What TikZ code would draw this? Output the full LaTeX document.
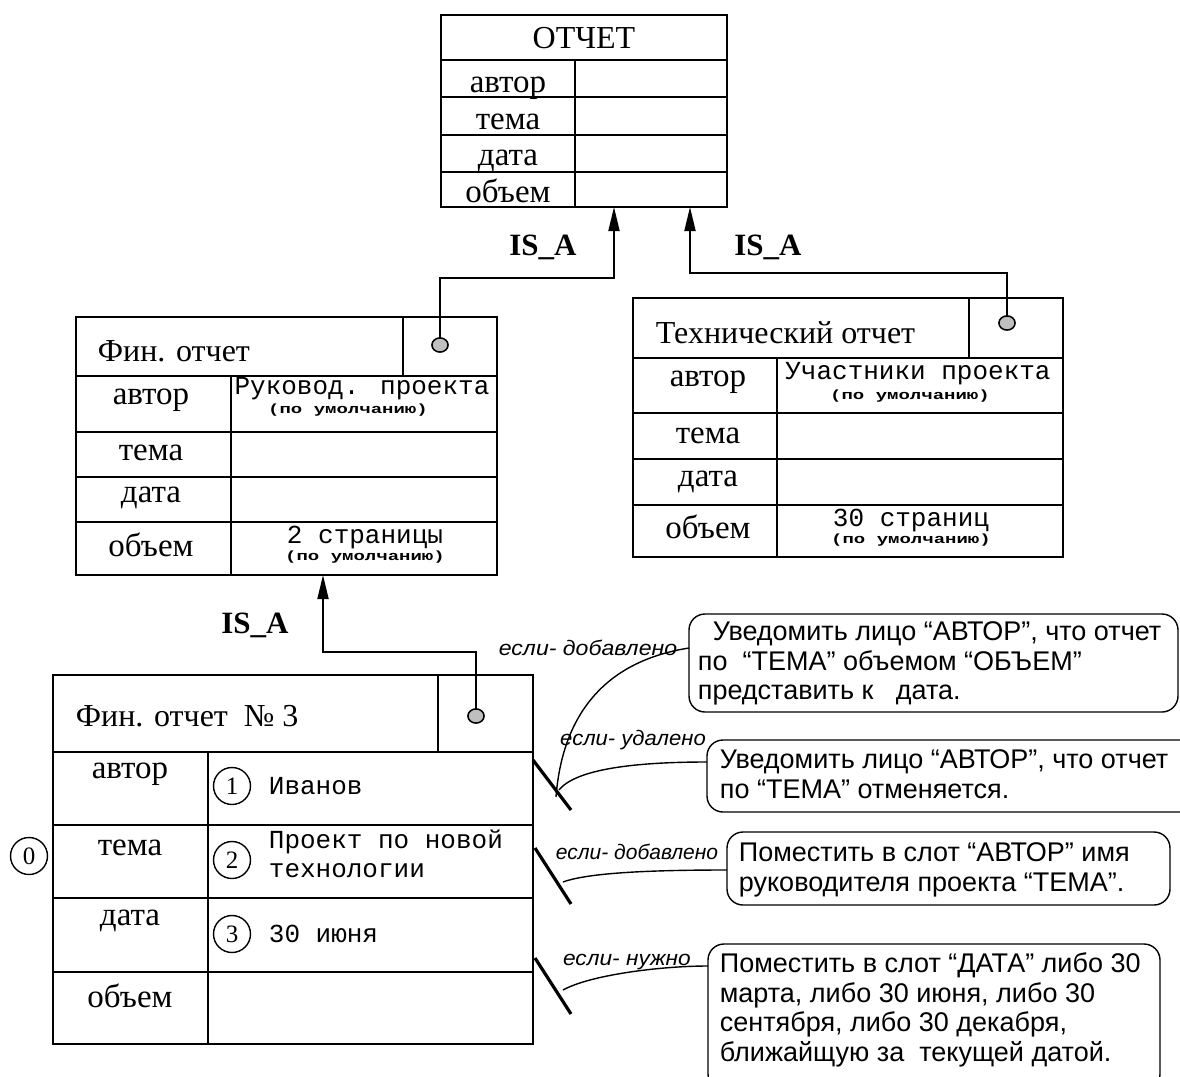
\documentclass[tikz,border=0pt]{standalone}
\usepackage{graphicx}
\usepackage{fontspec}
\setmainfont{Liberation Serif}
\newfontfamily\sansf{Liberation Sans}
\newfontfamily\monof{Liberation Mono}
\usetikzlibrary{arrows.meta,shapes.geometric}
\begin{document}
\begin{tikzpicture}[x=0.5pt,y=-0.5pt,line width=0.9pt,
  slot/.style={font=\fontsize{16.5}{16.5}\selectfont,inner sep=0pt},
  ttl/.style={font=\fontsize{16}{16}\selectfont,inner sep=0pt,anchor=west},
  val/.style={font=\monof\fontsize{13}{13}\selectfont,inner sep=0pt},
  dflt/.style={font=\monof\bfseries\fontsize{9.5}{9.5}\selectfont,inner sep=0pt},
  isa/.style={font=\bfseries\fontsize{15.5}{15.5}\selectfont,inner sep=0pt},
  num/.style={draw,circle,line width=0.7pt,minimum size=18.5pt,inner sep=0pt,font=\fontsize{12.5}{12.5}\selectfont},
  knob/.style={draw,ellipse,fill=gray!50,line width=0.7pt,minimum width=8pt,minimum height=7pt,inner sep=0pt},
  link/.style={line width=0.9pt,-{Triangle[length=12pt,width=5.5pt]}},
  slash/.style={line width=1.6pt},
  curve/.style={line width=0.7pt},
  cond/.style={font=\sansf\itshape\fontsize{10.5}{10.5}\selectfont,inner sep=0pt},
  note/.style={font=\sansf\fontsize{13.5}{14.75}\selectfont,inner sep=0pt,align=left,anchor=north west},
  callout/.style={draw,line width=0.7pt,rounded corners=8pt}]
\clip (0,0) rectangle (1180,1077);
\fill[white] (0,0) rectangle (1180,1077);

% ---- ОТЧЕТ
\draw (441,15) rectangle (727,207);
\draw (441,60) -- (727,60) (441,97) -- (727,97) (441,135) -- (727,135) (441,172) -- (727,172) (575,60) -- (575,207);
\node[font=\fontsize{16}{16}\selectfont,inner sep=0pt] (otchet) at (584,38) {ОТЧЕТ};
\node[slot,anchor=base] (o1) at (508,92) {автор};
\node[slot,anchor=base] (o2) at (508,129) {тема};
\node[slot,anchor=base] (o3) at (508,165) {дата};
\node[slot,anchor=base] (o4) at (508,202) {объем};
\coordinate (tA) at (614,207);
\coordinate (tB) at (690,207);

% ---- Фин. отчет
\draw (76,317) rectangle (497,575);
\draw (76,376) -- (497,376) (76,432) -- (497,432) (76,477) -- (497,477) (76,522) -- (497,522) (231,376) -- (231,575) (403,317) -- (403,376);
\node[ttl] (fin) at (97,351) {Фин. отчет};
\node[knob] (k1) at (440,345) {};
\node[slot] (f1) at (151,400) {автор};
\node[slot] (f2) at (151,453) {тема};
\node[slot] (f3) at (151,498) {дата};
\node[slot] (f4) at (151,545) {объем};
\node[val] (fv1) at (362,389) {Руковод. проекта};
\node[dflt] (fd1) at (348,410) {\scalebox{1}[0.7]{(по умолчанию)}};
\node[val] (fv4) at (365,537) {2 страницы};
\node[dflt] (fd4) at (365,557) {\scalebox{1}[0.7]{(по умолчанию)}};
\coordinate (tC) at (323,575);

% ---- Технический отчет
\draw (633,298) rectangle (1063,557);
\draw (633,358) -- (1063,358) (633,413) -- (1063,413) (633,459) -- (1063,459) (633,505) -- (1063,505) (777,358) -- (777,557) (969,298) -- (969,358);
\node[ttl] (tech) at (655,333) {Технический отчет};
\node[knob] (k2) at (1007,323) {};
\node[slot] (t1) at (708,382) {автор};
\node[slot] (t2) at (708,436) {тема};
\node[slot] (t3) at (708,482) {дата};
\node[slot] (t4) at (708,527) {объем};
\node[val] (tv1) at (918,374) {Участники проекта};
\node[dflt] (td1) at (910,396) {\scalebox{1}[0.7]{(по умолчанию)}};
\node[val] (tv4) at (911,520) {30 страниц};
\node[dflt] (td4) at (911,540) {\scalebox{1}[0.7]{(по умолчанию)}};

% ---- Фин. отчет № 3
\draw (53,675) rectangle (533,1044);
\draw (53,752) -- (533,752) (53,825) -- (533,825) (53,898) -- (533,898) (53,972) -- (533,972) (208,752) -- (208,1044) (438,675) -- (438,752);
\node[ttl] (fin3) at (75,716) {Фин. отчет \ № 3};
\node[knob] (k3) at (476,716) {};
\node[slot] (g1) at (130,774) {автор};
\node[slot] (g2) at (130,848) {тема};
\node[slot] (g3) at (130,921) {дата};
\node[slot] (g4) at (130,996) {объем};
\node[num] (n1) at (232,786) {1};
\node[num] (n2) at (232,860) {2};
\node[num] (n3) at (232,934) {3};
\node[num] (n0) at (29,856) {0};
\node[val,anchor=west] (gv1) at (268,786) {Иванов};
\node[val,anchor=west] (gv2a) at (268,842) {Проект по новой};
\node[val,anchor=west] (gv2b) at (268,871) {технологии};
\node[val,anchor=west] (gv3) at (268,934) {30 июня};

% ---- IS_A links
\draw[link] (k1.center) -- (440,278) -- (614,278) -- (tA);
\draw[link] (k2.center) -- (1007,273) -- (690,273) -- (tB);
\draw[link] (k3.center) -- (476,652) -- (323,652) -- (tC);
\node[knob] at (k1) {};
\node[knob] at (k2) {};
\node[knob] at (k3) {};
\node[isa] (isa1) at (543,247) {IS\_A};
\node[isa] (isa2) at (768,247) {IS\_A};
\node[isa] (isa3) at (255,625) {IS\_A};

% ---- demons
\coordinate (s1a) at (533,760); \coordinate (s1b) at (571,810);
\coordinate (s2a) at (535,848); \coordinate (s2b) at (571,904);
\coordinate (s3a) at (535,958); \coordinate (s3b) at (571,1014);
\draw[slash] (s1a) -- (s1b);
\draw[slash] (s2a) -- (s2b);
\draw[slash] (s3a) -- (s3b);

\draw[callout] (689,614) rectangle (1178,712);
\draw[callout] (707,740) rectangle (1200,812);
\draw[callout] (727,832) rectangle (1170,905);
\draw[callout] (708,944) rectangle (1160,1090);
\coordinate (b1) at (689,648);
\coordinate (b2) at (707,762);
\coordinate (b3) at (727,870);
\coordinate (b4) at (708,966);

\node[note] (m1) at (697,621) {\ \ Уведомить лицо “АВТОР”, что отчет\\по \ “ТЕМА” объемом “ОБЪЕМ”\\представить к \ \ дата.};
\node[note] (m2) at (719,749) {Уведомить лицо “АВТОР”, что отчет\\по “ТЕМА” отменяется.};
\node[note] (m3) at (738,842) {Поместить в слот “АВТОР” имя\\руководителя проекта “ТЕМА”.};
\node[note] (m4) at (719,952) {Поместить в слот “ДАТА” либо 30\\марта, либо 30 июня, либо 30\\сентября, либо 30 декабря,\\ближайщую за \ текущей датой.};

\draw[curve] (556,797) .. controls (562,720) and (600,662) .. (b1);
\draw[curve] (559,790) .. controls (575,770) and (630,762) .. (b2);
\draw[curve] (563,882) .. controls (590,872) and (660,870) .. (b3);
\draw[curve] (563,990) .. controls (590,975) and (660,966) .. (b4);

\node[cond] (c1) at (588,648) {\scalebox{1.1}[1]{если- добавлено}};
\node[cond] (c2) at (633,740) {\scalebox{1.05}[1]{если- удалено}};
\node[cond] (c3) at (637,852) {если- добавлено};
\node[cond] (c4) at (627,962) {\scalebox{1.08}[1]{если- нужно}};
\end{tikzpicture}
\end{document}
